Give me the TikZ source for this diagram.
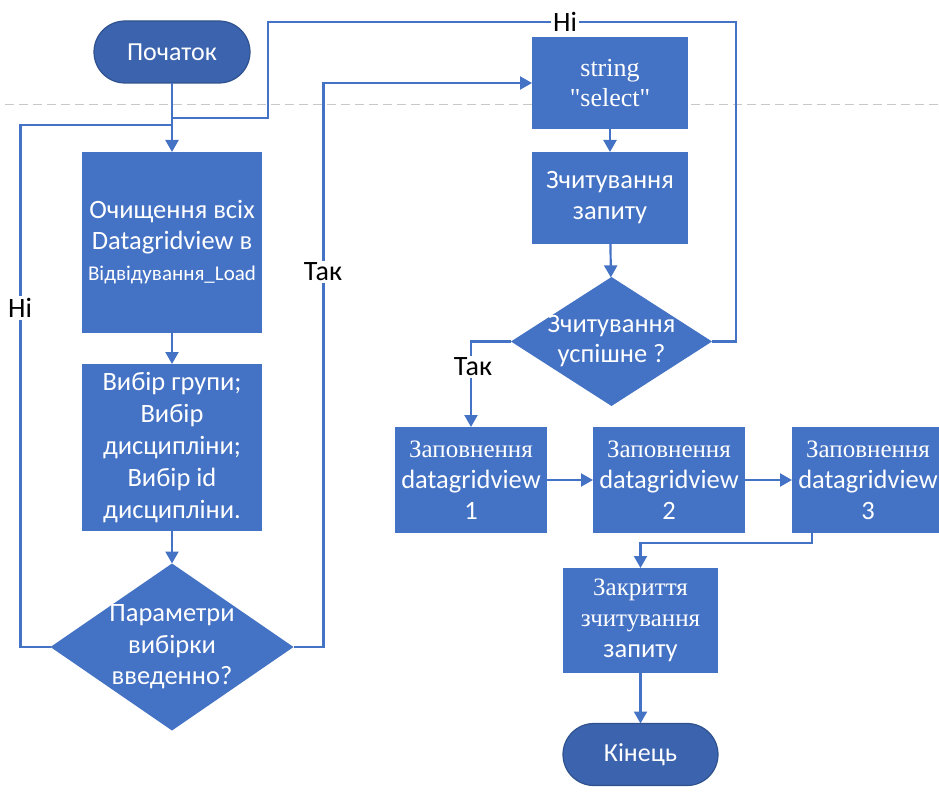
\documentclass[tikz,border=0pt]{standalone}
\usepackage{fontspec}
\setmainfont{Carlito}
\newfontfamily\serifcyr{Liberation Serif}
\usetikzlibrary{shapes.geometric,arrows.meta,calc}

\definecolor{boxblue}{HTML}{4472C4}
\definecolor{termblue}{HTML}{3C63AE}
\definecolor{termedge}{HTML}{2F528F}
\definecolor{guide}{HTML}{C8C8C8}

\begin{document}
\begin{tikzpicture}[x=1pt,y=-1pt,
  every node/.style={inner sep=0pt, outer sep=0pt},
  procbox/.style={rectangle, fill=boxblue, text=white, align=center,
    font=\fontsize{26.5}{31}\selectfont},
  terminal/.style={rectangle, rounded corners=31pt, fill=termblue, draw=termedge,
    line width=1.2pt, text=white, font=\fontsize{26}{30}\selectfont,
    minimum width=156pt, minimum height=62pt},
  decision/.style={diamond, fill=boxblue},
  dectext/.style={text=white, align=center, font=\fontsize{26.5}{31.5}\selectfont},
  flow/.style={draw=boxblue, line width=2.2pt, -{Triangle[length=12pt,width=13pt]}},
  link/.style={draw=boxblue, line width=2.2pt},
  tag/.style={fill=white, text=black, font=\fontsize{28}{32}\selectfont, inner sep=2pt}
]
\useasboundingbox (0,0) rectangle (939,794);

% page guide
\draw[guide, line width=1pt, dash pattern=on 9pt off 5pt] (5,105) -- (939,105);

% left column
\node[terminal] (start) at (172,52) {Початок};
\node[procbox, minimum width=180pt, minimum height=181pt] (clear) at (172,242.5)
  {Очищення всіх\\Datagridview в\\{\fontsize{21}{25}\selectfont Відвідування\_Load}};
\node[procbox, minimum width=180pt, minimum height=167pt,
  font=\fontsize{26.5}{32}\selectfont] (choose) at (172,447.5)
  {Вибір групи;\\Вибір\\дисципліни;\\Вибір id\\дисципліни.};
\node[decision, minimum width=243pt, minimum height=167pt,
  label={[dectext]center:{Параметри\\вибірки\\введенно?}}] (given) at (172,647) {};

% right column
\node[procbox, minimum width=156pt, minimum height=92pt,
  font=\serifcyr\fontsize{26}{30}\selectfont] (sel) at (610,83) {string\\"select"};
\node[procbox, minimum width=156pt, minimum height=92pt] (read) at (610,198)
  {Зчитування\\запиту};
\node[decision, minimum width=201pt, minimum height=129pt,
  label={[dectext, font=\fontsize{26.5}{30}\selectfont]center:{Зчитування\\успішне ?}}] (ok) at (611.5,341.5) {};

% fill-in row
\node[procbox, minimum width=152pt, minimum height=106pt] (g1) at (471,480)
  {{\serifcyr\fontsize{25}{31}\selectfont Заповнення}\\datagridview\\1};
\node[procbox, minimum width=152pt, minimum height=106pt] (g2) at (669,480)
  {{\serifcyr\fontsize{25}{31}\selectfont Заповнення}\\datagridview\\2};
\node[procbox, minimum width=152pt, minimum height=106pt] (g3) at (868,480)
  {{\serifcyr\fontsize{25}{31}\selectfont Заповнення}\\datagridview\\3};

\node[procbox, minimum width=155pt, minimum height=105pt] (close) at (640.5,620.5)
  {{\serifcyr\fontsize{25}{31}\selectfont Закриття}\\{\serifcyr\fontsize{25}{31}\selectfont зчитування}\\запиту};
\node[terminal, minimum width=155pt] (end) at (640.5,754.5) {Кінець};

% junction points on the entry line
\coordinate (joinA) at (172,125);
\coordinate (joinB) at (172,118);
\coordinate (topL) at (268,22);

% main flow
\draw[flow] (start) -- (clear);
\draw[flow] (clear) -- (choose);
\draw[flow] (choose) -- (given);
\draw[flow] (sel) -- (read);
\draw[flow] (read) -- (ok);
\draw[flow] (ok.west) -| (g1.north);
\draw[flow] (g1) -- (g2);
\draw[flow] (g2) -- (g3);
\draw[flow] ([xshift=20pt]g3.south west) -- ++(0,10) -| (close.north);
\draw[flow] (close) -- (end);

% loops
\draw[link] (given.west) -- ++(-30,0) |- (joinA);
\draw[flow] (given.east) -- ++(30,0) |- (sel.west);
\draw[link] (ok.east) -- ++(24,0) |- (topL) |- (joinB);

% branch labels
\node[tag] (noL) at (20,308) {Ні};
\node[tag] (yesL) at (323,272) {Так};
\node[tag] (noT) at (565,22) {Ні};
\node[tag] (yesR) at (473,367) {Так};
\end{tikzpicture}
\end{document}
